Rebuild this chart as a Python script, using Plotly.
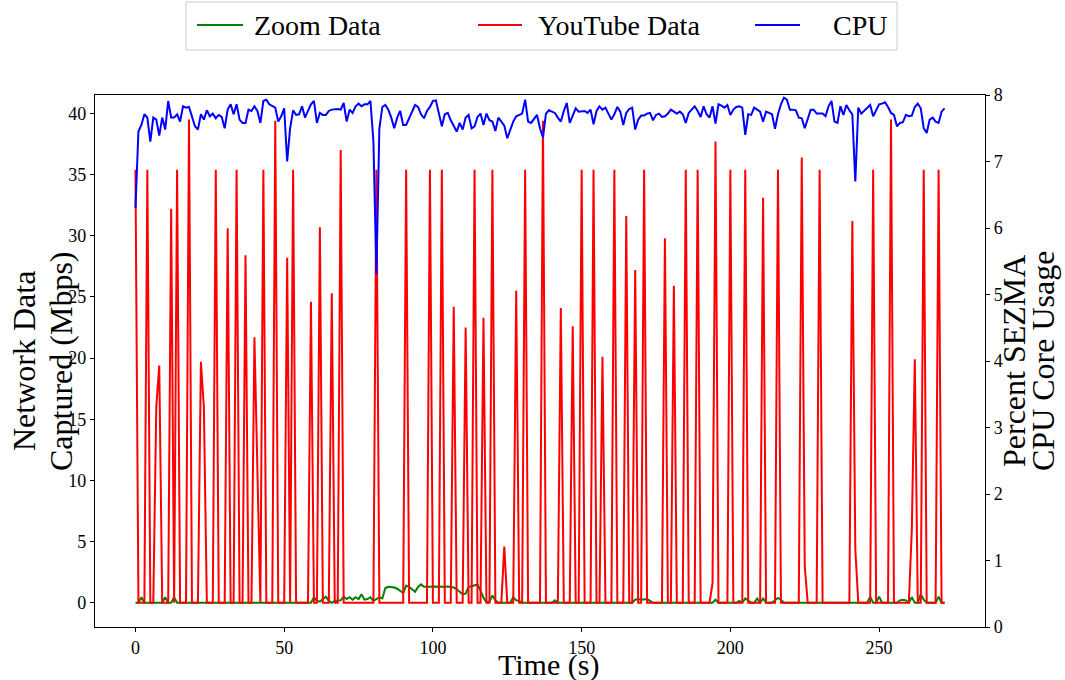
import plotly.graph_objects as go

# Sample times (one reading per second)
time_s = list(range(273))

# Zoom traffic captured (Mbps)
zoom_mbps = [
    0, 0, 0.45, 0, 0, 0, 0, 0, 0, 0,
    0.45, 0, 0, 0.45, 0, 0, 0, 0, 0, 0,
    0, 0, 0, 0, 0, 0, 0, 0, 0, 0,
    0, 0, 0, 0, 0, 0, 0, 0, 0, 0,
    0, 0, 0, 0, 0, 0, 0, 0, 0, 0,
    0, 0, 0, 0, 0, 0, 0, 0, 0, 0,
    0.45, 0.15, 0.1, 0.3, 0.5, 0.15, 0, 0.15, 0.2, 0.2,
    0.5, 0.3, 0.45, 0.25, 0.45, 0.3, 0.7, 0.25, 0.3, 0.45,
    0.15, 0.3, 0.45, 0.35, 1.2, 1.3, 1.3, 1.25, 1.15, 0.95,
    0.8, 1.4, 1.3, 1.1, 0.9, 1.3, 1.5, 1.3, 1.28, 1.3,
    1.32, 1.3, 1.3, 1.31, 1.3, 1.32, 1.3, 1.25, 1.1, 0.9,
    0.7, 0.75, 1.3, 1.35, 1.4, 1.5, 1.0, 0.4, 0.05, 0.1,
    0.6, 0.2, 0, 0, 0, 0, 0, 0.45, 0.2, 0.15,
    0, 0, 0, 0, 0, 0, 0, 0, 0, 0,
    0, 0.2, 0, 0, 0, 0, 0, 0, 0, 0,
    0, 0, 0, 0, 0, 0, 0, 0, 0, 0,
    0, 0, 0, 0, 0, 0, 0, 0, 0.25, 0.3,
    0.25, 0.25, 0.3, 0.15, 0, 0, 0, 0, 0, 0,
    0, 0, 0, 0, 0, 0, 0, 0, 0, 0,
    0, 0, 0, 0, 0, 0.25, 0, 0, 0, 0,
    0, 0, 0, 0.15, 0, 0.35, 0.2, 0, 0, 0.35,
    0, 0.35, 0, 0, 0, 0.2, 0.4, 0.25, 0, 0,
    0, 0, 0, 0, 0, 0, 0, 0, 0, 0,
    0, 0, 0, 0, 0, 0, 0, 0, 0, 0,
    0, 0, 0, 0, 0, 0, 0, 0.5, 0, 0,
    0.5, 0, 0, 0, 0, 0, 0, 0.2, 0.25, 0.2,
    0, 0.45, 0, 0, 0.7, 0.25, 0, 0, 0, 0,
    0.5, 0, 0,
]

# YouTube traffic captured (Mbps)
youtube_mbps = [
    35.4, 0, 0, 0, 35.4, 0, 0, 16.0, 19.4, 0,
    0, 0, 32.2, 0, 35.4, 0, 0, 0, 39.5, 0,
    0, 0, 19.7, 16.0, 0, 0, 0, 35.4, 0, 0,
    0, 30.6, 0, 0, 35.4, 0, 0, 28.4, 0, 0,
    21.7, 10.8, 0, 35.4, 0, 0, 0, 39.4, 0, 0,
    0, 28.2, 0, 35.4, 0, 0, 0, 0, 0, 24.6,
    0, 0, 30.7, 0, 0, 0, 25.3, 0, 0, 37.0,
    0, 0, 0, 0, 0, 0, 0, 0, 0, 0,
    0, 35.4, 0, 0, 0, 0, 0, 0, 0, 0,
    0, 35.4, 0, 0, 0, 0, 0, 0, 0, 35.4,
    0, 0, 0, 35.4, 0, 0, 0, 24.2, 0, 0,
    0, 22.5, 0, 0, 35.4, 0, 0, 23.3, 0, 0,
    35.4, 0, 0, 0, 4.6, 0, 0, 0, 25.5, 0,
    0, 35.4, 0, 0, 0, 0, 0, 39.4, 0, 0,
    0, 0, 0, 24.1, 0, 0, 0, 22.6, 0, 0,
    35.4, 0, 0, 0, 35.4, 0, 0, 20.1, 0, 0,
    0, 35.4, 0, 0, 0, 31.6, 0, 0, 27.2, 0,
    0, 35.4, 0, 0, 0, 0, 0, 0, 29.8, 0,
    0, 25.9, 0, 0, 0, 35.4, 0, 0, 0, 35.4,
    0, 0, 0, 0, 1.6, 37.7, 0, 0, 0, 0,
    35.4, 0, 0, 0, 0, 35.4, 0, 0, 0, 0,
    0, 33.1, 0, 0, 0, 0, 35.4, 0, 0, 0,
    0, 0, 0, 0, 36.4, 3.0, 0, 0, 0, 0,
    35.4, 0, 0, 0, 0, 0, 0, 0, 0, 0,
    0, 31.2, 4.4, 0, 0, 0, 0, 0, 35.4, 0,
    0, 0, 0, 0, 39.5, 0, 0, 0, 0, 0,
    0, 6.0, 19.9, 0, 0, 35.4, 0, 0, 0, 0,
    35.4, 0, 0,
]

# SEZMA CPU core usage (percent of cores)
cpu_cores = [
    6.30, 7.45, 7.55, 7.71, 7.66, 7.30, 7.66, 7.63, 7.39, 7.66,
    7.48, 7.91, 7.66, 7.66, 7.71, 7.60, 7.83, 7.81, 7.82, 7.68,
    7.53, 7.48, 7.71, 7.63, 7.77, 7.68, 7.72, 7.65, 7.70, 7.67,
    7.50, 7.78, 7.86, 7.71, 7.86, 7.63, 7.58, 7.58, 7.78, 7.76,
    7.83, 7.76, 7.58, 7.91, 7.93, 7.86, 7.83, 7.81, 7.60, 7.68,
    7.80, 7.00, 7.50, 7.77, 7.70, 7.71, 7.83, 7.66, 7.76, 7.86,
    7.91, 7.58, 7.73, 7.70, 7.70, 7.76, 7.78, 7.79, 7.79, 7.78,
    7.88, 7.60, 7.78, 7.73, 7.83, 7.87, 7.83, 7.86, 7.86, 7.91,
    7.30, 5.31, 7.50, 7.82, 7.85, 7.78, 7.66, 7.50, 7.66, 7.76,
    7.55, 7.55, 7.66, 7.76, 7.85, 7.82, 7.71, 7.65, 7.76, 7.82,
    7.91, 7.92, 7.71, 7.53, 7.71, 7.73, 7.62, 7.53, 7.45, 7.58,
    7.48, 7.66, 7.70, 7.50, 7.53, 7.67, 7.72, 7.55, 7.72, 7.62,
    7.60, 7.46, 7.66, 7.60, 7.54, 7.35, 7.46, 7.60, 7.68, 7.70,
    7.72, 7.93, 7.60, 7.58, 7.65, 7.70, 7.50, 7.36, 7.72, 7.77,
    7.75, 7.73, 7.66, 7.60, 7.76, 7.88, 7.58, 7.68, 7.80, 7.75,
    7.76, 7.76, 7.73, 7.78, 7.56, 7.76, 7.83, 7.78, 7.81, 7.73,
    7.63, 7.71, 7.82, 7.75, 7.55, 7.73, 7.79, 7.81, 7.48, 7.63,
    7.69, 7.69, 7.72, 7.73, 7.62, 7.70, 7.72, 7.67, 7.68, 7.72,
    7.78, 7.75, 7.72, 7.75, 7.71, 7.58, 7.73, 7.78, 7.83, 7.76,
    7.67, 7.83, 7.71, 7.66, 7.83, 7.57, 7.86, 7.84, 7.81, 7.85,
    7.70, 7.78, 7.82, 7.83, 7.81, 7.40, 7.71, 7.70, 7.81, 7.78,
    7.75, 7.60, 7.75, 7.73, 7.71, 7.49, 7.71, 7.86, 7.96, 7.93,
    7.78, 7.78, 7.77, 7.66, 7.65, 7.50, 7.66, 7.78, 7.78, 7.72,
    7.72, 7.72, 7.68, 7.83, 7.91, 7.60, 7.58, 7.83, 7.70, 7.85,
    7.77, 7.71, 6.70, 7.81, 7.72, 7.76, 7.81, 7.85, 7.68, 7.77,
    7.86, 7.87, 7.89, 7.82, 7.73, 7.70, 7.53, 7.58, 7.59, 7.70,
    7.68, 7.69, 7.82, 7.87, 7.80, 7.50, 7.43, 7.63, 7.66, 7.60,
    7.58, 7.75, 7.80,
]

x_ticks = [0, 50, 100, 150, 200, 250]
y_ticks = [0, 5, 10, 15, 20, 25, 30, 35, 40]
y2_ticks = [0, 1, 2, 3, 4, 5, 6, 7, 8]

FONT = "Liberation Serif"
W, H = 1065, 680
PL, PR, PT, PB = 95, 985, 95, 627  # plot area in pixels


def px_to_paper(px, py):
    return (px - PL) / (PR - PL), (PB - py) / (PB - PT)


fig = go.Figure()
fig.add_trace(go.Scatter(x=time_s, y=zoom_mbps, name="Zoom Data", mode="lines",
                         line=dict(color="green", width=2), showlegend=False))
fig.add_trace(go.Scatter(x=time_s, y=youtube_mbps, name="YouTube Data", mode="lines",
                         line=dict(color="red", width=2), showlegend=False))
fig.add_trace(go.Scatter(x=time_s, y=cpu_cores, name="CPU", mode="lines", yaxis="y2",
                         line=dict(color="blue", width=2), showlegend=False))

axis_common = dict(
    showgrid=False, zeroline=False, showline=True, linecolor="black", linewidth=1.2,
    ticks="outside", ticklen=4, tickwidth=1.2, tickcolor="black", automargin=False,
    tickfont=dict(family=FONT, size=18, color="black"),
)

fig.update_layout(
    width=W, height=H, autosize=False,
    margin=dict(l=PL, r=W - PR, t=PT, b=H - PB, pad=0),
    paper_bgcolor="white", plot_bgcolor="white",
    xaxis=dict(range=[-13.6, 285.6], tickvals=x_ticks, mirror=True, **axis_common),
    yaxis=dict(range=[-1.98, 41.5], tickvals=y_ticks, **axis_common),
    yaxis2=dict(range=[0, 8], tickvals=y2_ticks, overlaying="y", side="right",
                **axis_common),
)

# Axis titles
axis_titles = [("Time (s)", 548, 665, 0, 30),
               ("Network Data", 24, 361, -90, 32),
               ("Captured (Mbps)", 61, 361, -90, 32),
               ("Percent SEZMA", 1014, 361, -90, 32),
               ("CPU Core Usage", 1043, 361, -90, 32)]
for text, cx, cy, angle, size in axis_titles:
    px, py = px_to_paper(cx, cy)
    fig.add_annotation(xref="paper", yref="paper", x=px, y=py, text=text,
                       showarrow=False, xanchor="center", yanchor="middle",
                       textangle=angle, borderpad=0,
                       font=dict(family=FONT, size=size, color="black"))

# Legend box drawn across the top
x0, y0 = px_to_paper(186, 50)
x1, y1 = px_to_paper(897, 2)
fig.add_shape(type="rect", xref="paper", yref="paper", x0=x0, y0=y0, x1=x1, y1=y1,
              line=dict(color="#cccccc", width=1), fillcolor="white", layer="above")
legend_items = [("Zoom Data", "green", 197, 243, 252),
                ("YouTube Data", "red", 478, 522, 536),
                ("CPU", "blue", 755, 800, 831)]
for label, color, hx0, hx1, tx in legend_items:
    ax0, ay = px_to_paper(hx0, 25)
    ax1, _ = px_to_paper(hx1, 25)
    fig.add_shape(type="line", xref="paper", yref="paper", x0=ax0, x1=ax1, y0=ay, y1=ay,
                  line=dict(color=color, width=2), layer="above")
    tx_p, _ = px_to_paper(tx, 25)
    fig.add_annotation(xref="paper", yref="paper", x=tx_p, y=ay, text=label,
                       showarrow=False, xanchor="left", yanchor="middle",
                       font=dict(family=FONT, size=28, color="black"))

fig.write_html("out.html")
